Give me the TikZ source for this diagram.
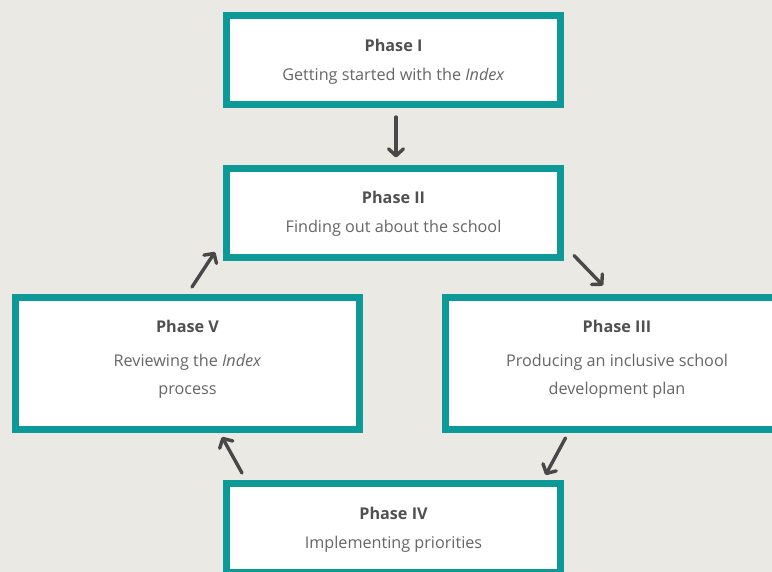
\documentclass[tikz,border=0pt]{standalone}
\usepackage{fontspec}
\setmainfont{Open Sans}
\usetikzlibrary{arrows.meta,calc}

\definecolor{bgpaper}{RGB}{234,233,227}
\definecolor{phaseteal}{RGB}{14,153,153}
\definecolor{titlegray}{RGB}{80,80,80}
\definecolor{bodygray}{RGB}{102,102,102}
\definecolor{arrowgray}{RGB}{72,72,72}

\tikzset{
    phase/.style={draw=phaseteal, line width=7pt, fill=white, rectangle,
        minimum width=334pt, minimum height=89pt, align=center,
        font=\fontsize{16.2}{28}\selectfont, text=bodygray},
    widephase/.style={phase, minimum width=344pt, minimum height=132pt, text depth=12pt},
    flow/.style={arrowgray, line width=3.4pt, line cap=round,
        -{Straight Barb[length=7pt,width=15pt,round]}}
}
\newcommand{\phasetitle}[1]{{\bfseries\color{titlegray}#1}\\[1pt]}
\newcommand{\widetitle}[1]{{\bfseries\color{titlegray}#1}\\[6pt]}

\begin{document}
\begin{tikzpicture}[x=1pt,y=-1pt]
    % Paper
    \fill[bgpaper] (0,0) rectangle (772,572);
    \useasboundingbox (0,0) rectangle (772,572);
    \clip (0,0) rectangle (772,572);

    % Phase boxes
    \node[phase, text depth=0pt] (p1) at (393.5,60) {\phasetitle{Phase I}Getting started with the \textit{Index}};
    \node[phase] (p2) at (393.5,213.5) {\phasetitle{Phase II}Finding out about the school};
    \node[widephase] (p3) at (617,363.5) {\widetitle{Phase III}Producing an inclusive school\\development plan};
    \node[phase, text depth=0pt] (p4) at (393.5,528) {\phasetitle{Phase IV}Implementing priorities};
    \node[widephase] (p5) at (187.5,363.5) {\widetitle{Phase V}Reviewing the \textit{Index}\\process};

    % Cycle arrows
    \draw[flow] ($(p1.south)+(2.5,9)$) -- ($(p2.north)+(2.5,-8)$);
    \draw[flow] ($(p2.south east)+(10,-6)$) -- +(29,30);
    \draw[flow] ($(p3.south west)+(124,5)$) -- +(-20,37);
    \draw[flow] ($(p4.north west)+(19,-7)$) -- +(-20,-36);
    \draw[flow] ($(p5.north west)+(180,-7)$) -- +(23,-35);
\end{tikzpicture}
\end{document}
